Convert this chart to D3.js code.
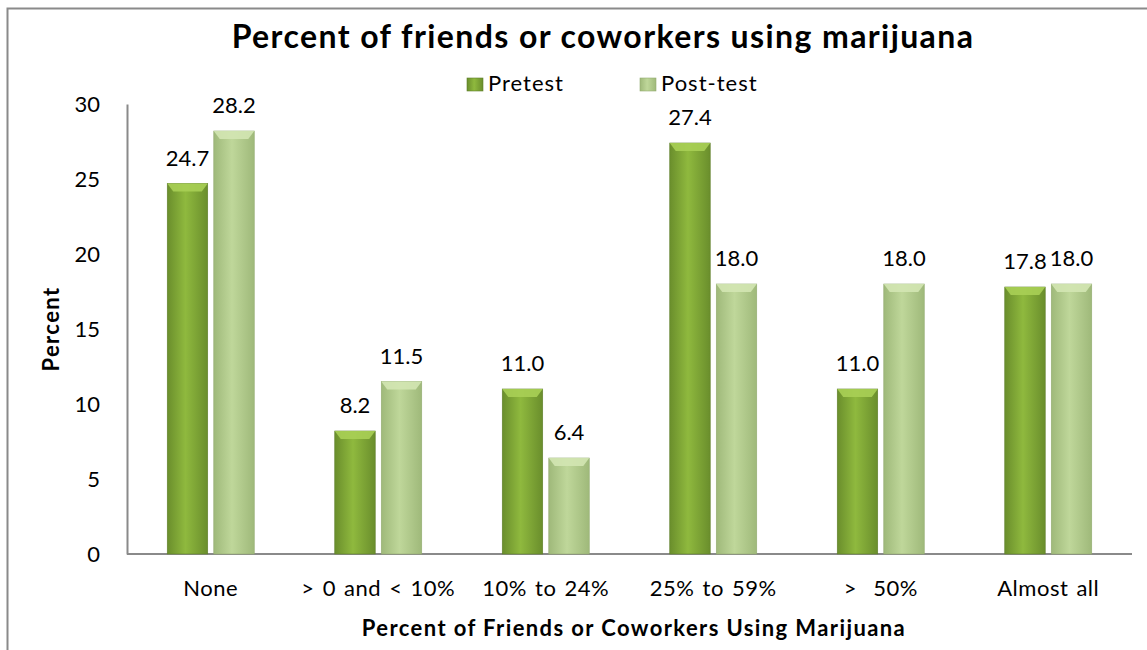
<!DOCTYPE html>
<html><head><meta charset="utf-8">
<script src="https://cdn.jsdelivr.net/npm/d3@7"></script>
<style>body{margin:0;background:#fff;} svg{display:block;font-family:Lato,"Open Sans",sans-serif;}</style>
</head><body>
<svg id="c" width="1147" height="650"></svg>
<script>
const categories = ["None", "> 0 and < 10%", "10% to 24%", "25% to 59%", ">  50%", "Almost all"];
const pretest = [24.7, 8.2, 11.0, 27.4, 11.0, 17.8];
const posttest = [28.2, 11.5, 6.4, 18.0, 18.0, 18.0];
const seriesNames = ["Pretest", "Post-test"];
const yTicks = [0, 5, 10, 15, 20, 25, 30];

const svg = d3.select("#c");
const FF = "Lato,'Open Sans',sans-serif";
const m = {left: 127, right: 1132, top: 104, bottom: 554};
const x = d3.scaleBand().domain(categories).range([m.left, m.right]);
const y = d3.scaleLinear().domain([0, 30]).range([m.bottom, m.top]);
const xs = d3.scaleBand().domain(seriesNames).range([0, 87]).paddingInner(0.13);

const defs = svg.append("defs");
function grad(id, edge, mid) {
  const g = defs.append("linearGradient").attr("id", id).attr("x1", 0).attr("x2", 1).attr("y1", 0).attr("y2", 0);
  g.append("stop").attr("offset", "0%").attr("stop-color", edge);
  g.append("stop").attr("offset", "45%").attr("stop-color", mid);
  g.append("stop").attr("offset", "100%").attr("stop-color", edge);
}
grad("gPre", "#6a8e2c", "#8fb93e");
grad("gPost", "#9fb97a", "#bfd79a");
const fills = ["url(#gPre)", "url(#gPost)"];
const tops = ["#a9cf55", "#d3e6b3"];
const strokes = ["#5f7f2a", "#93ab70"];

// frame
svg.append("path").attr("d", "M7.5,650 V8.5 H1147").attr("fill", "none").attr("stroke", "#8a8a8a").attr("stroke-width", 2);

// title
svg.append("text").attr("x", 603).attr("y", 48).attr("text-anchor", "middle")
  .attr("font-size", 32).attr("font-weight", "bold").attr("letter-spacing", 1.4)
  .text("Percent of friends or coworkers using marijuana");

// legend
const leg = [{n: "Pretest", x: 467}, {n: "Post-test", x: 640}];
leg.forEach((l, i) => {
  svg.append("rect").attr("x", l.x).attr("y", 78).attr("width", 16).attr("height", 13).attr("fill", fills[i]).attr("stroke", strokes[i]).attr("stroke-width", 0.6);
  svg.append("text").attr("x", l.x + 21).attr("y", 91).attr("font-size", 22).attr("letter-spacing", 1).text(l.n);
});

// axes
const yAxis = d3.axisLeft(y).tickValues(yTicks).tickSize(0).tickPadding(27);
const gy = svg.append("g").attr("transform", `translate(${m.left},0)`).call(yAxis);
gy.select(".domain").attr("stroke", "#8a8a8a").attr("stroke-width", 2);
gy.selectAll("text").attr("font-size", 22).attr("font-family", FF).attr("fill", "#000");

const xAxis = d3.axisBottom(x).tickSize(0).tickPadding(26);
const gx = svg.append("g").attr("transform", `translate(0,${m.bottom})`).call(xAxis);
gx.select(".domain").attr("stroke", "#8a8a8a").attr("stroke-width", 2).attr("d", `M${m.left},0H${m.right}`);
gx.selectAll("text").attr("font-size", 22).attr("font-family", FF).attr("fill", "#000")
  .attr("letter-spacing", 0.5).attr("word-spacing", 2).style("white-space", "pre");

// bars
const data = [];
categories.forEach((c, i) => {
  data.push({c, s: 0, v: pretest[i]});
  data.push({c, s: 1, v: posttest[i]});
});
const bw = xs.bandwidth();
const bars = svg.append("g");
data.forEach(d => {
  const x0 = x(d.c) + x.bandwidth() / 2 - 43.5 + xs(seriesNames[d.s]);
  const y0 = y(d.v);
  const h = y(0) - y0;
  bars.append("rect").attr("x", x0).attr("y", y0).attr("width", bw).attr("height", h)
    .attr("fill", fills[d.s]).attr("stroke", strokes[d.s]).attr("stroke-width", 0.6);
  bars.append("path").attr("d", `M${x0},${y0} H${x0 + bw} L${x0 + bw - 6},${y0 + 8} H${x0 + 6} Z`)
    .attr("fill", tops[d.s]).attr("opacity", 0.9);
  svg.append("text").attr("x", x0 + bw / 2).attr("y", y0 - 18).attr("text-anchor", "middle")
    .attr("font-size", 22).text(d.v.toFixed(1));
});

// axis titles
svg.append("text").attr("transform", "translate(59,329) rotate(-90)").attr("text-anchor", "middle")
  .attr("font-size", 22).attr("font-weight", "bold").attr("letter-spacing", 1.4).text("Percent");
svg.append("text").attr("x", 634).attr("y", 636).attr("text-anchor", "middle")
  .attr("font-size", 22).attr("font-weight", "bold").attr("letter-spacing", 1.4)
  .text("Percent of Friends or Coworkers Using Marijuana");
</script>
</body></html>
